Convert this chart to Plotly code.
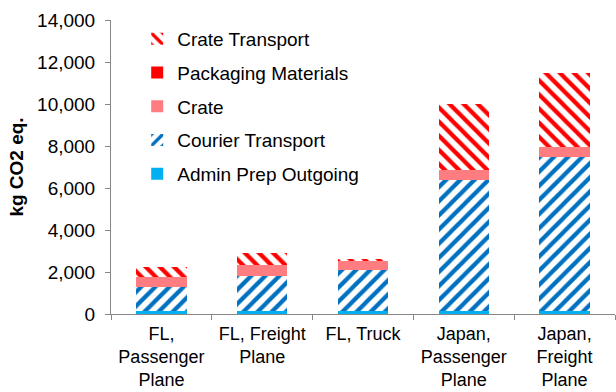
import plotly.graph_objects as go

categories = ["FL,<br>Passenger<br>Plane", "FL, Freight<br>Plane", "FL, Truck",
              "Japan,<br>Passenger<br>Plane", "Japan,<br>Freight<br>Plane"]
admin_prep = [150, 150, 150, 150, 150]
courier_transport = [1150, 1670, 1945, 6230, 7340]
crate = [480, 510, 475, 480, 480]
packaging_materials = [0, 0, 0, 0, 0]
crate_transport = [470, 560, 50, 3140, 3490]
y_ticks = [0, 2000, 4000, 6000, 8000, 10000, 12000, 14000]

FONT = "Liberation Sans, Arial, sans-serif"
fig = go.Figure()

series = [
    ("Admin Prep Outgoing", admin_prep, dict(color="#00B0F0"), 5),
    ("Courier Transport", courier_transport,
     dict(color="white", pattern=dict(shape="/", fgcolor="#0070C0", fgopacity=1,
                                      bgcolor="white", size=10, solidity=0.42)), 4),
    ("Crate", crate, dict(color="#FF7C80"), 3),
    ("Packaging Materials", packaging_materials, dict(color="#FF0000"), 2),
    ("Crate Transport", crate_transport,
     dict(color="white", pattern=dict(shape="\\", fgcolor="#FF0000", fgopacity=1,
                                      bgcolor="white", size=10, solidity=0.42)), 1),
]
for name, vals, marker, rank in series:
    marker = dict(marker)
    marker["line"] = dict(width=0)
    fig.add_trace(go.Bar(x=categories, y=vals, name=name, marker=marker,
                         legendgroup=name, legendrank=rank, width=0.5))

fig.update_layout(
    width=616, height=392,
    barmode="stack",
    margin=dict(l=111, r=1, t=20, b=78, autoexpand=False),
    paper_bgcolor="white", plot_bgcolor="white",
    font=dict(family=FONT, size=19, color="#000000"),
    showlegend=True,
    legend=dict(x=0.052, y=1.0, xanchor="left", yanchor="top",
                traceorder="grouped", tracegroupgap=6,
                font=dict(size=19), bgcolor="rgba(0,0,0,0)"),
    bargap=0.5,
)
fig.update_xaxes(showline=True, linecolor="#868686", linewidth=1,
                 ticks="outside", ticklen=5, tickcolor="#868686",
                 tickson="boundaries", showgrid=False, ticklabelstandoff=3,
                 tickangle=0, automargin=False, tickfont=dict(size=18))
fig.update_yaxes(range=[0, 14000], tickvals=y_ticks, tickformat=",d",
                 showline=True, linecolor="#868686", linewidth=1,
                 ticks="outside", ticklen=5, tickcolor="#868686",
                 showgrid=False, zeroline=False, ticklabelstandoff=6,
                 automargin=False,
                 title=dict(text="<b>kg CO2 eq.</b>", font=dict(size=19), standoff=8),
                 tickfont=dict(size=19))

fig.write_html("out.html")
